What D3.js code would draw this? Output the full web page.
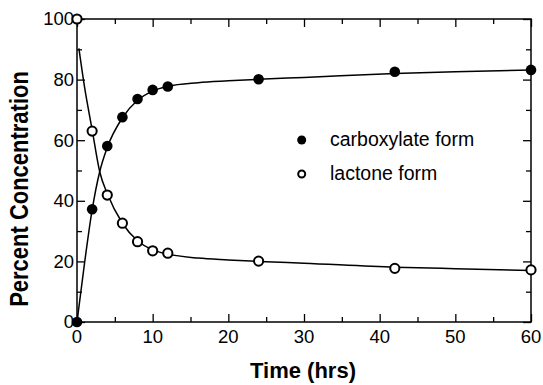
<!DOCTYPE html>
<html>
<head>
<meta charset="utf-8">
<script src="https://cdnjs.cloudflare.com/ajax/libs/d3/7.8.5/d3.min.js"></script>
<style>
  html, body { margin: 0; padding: 0; background: #fff; }
  svg { display: block; }
  text { font-family: Arial, "Liberation Sans", Helvetica, sans-serif; fill: #000; }
</style>
</head>
<body>
<svg id="chart" width="543" height="385"></svg>
<script>
// Measured data points
const timePoints = [0, 2, 4, 6, 8, 10, 12, 24, 42, 60];
const carboxylate = [0, 37.2, 58.1, 67.6, 73.6, 76.6, 77.7, 80.1, 82.6, 83.2];
const lactone = [100, 63.0, 41.9, 32.6, 26.5, 23.5, 22.7, 20.1, 17.7, 17.2];

// Fitted curves
const fitCarboxTime = [0, 1, 2, 3, 4, 6, 8, 10, 12, 16, 20, 24, 30, 42, 50, 60];
const fitCarbox = [0, 19.5, 37, 49.6, 57.6, 67.4, 73.2, 76.2, 77.8, 79.0, 79.6, 80.1, 80.7, 82.0, 82.6, 83.2];
const fitLactoneTime = [0.25, 1, 2, 3, 4, 6, 8, 10, 12, 16, 20, 24, 30, 42, 50, 60];
const fitLactone = [90.3, 77.5, 63.5, 49.6, 42.4, 32.6, 26.8, 23.8, 22.4, 21.1, 20.5, 20.0, 19.4, 18.1, 17.6, 17.0];

const xTicks = [0, 10, 20, 30, 40, 50, 60];
const xMinor = [5, 15, 25, 35, 45, 55];
const yTicks = [0, 20, 40, 60, 80, 100];
const yMinor = [10, 30, 50, 70, 90];
const seriesNames = ["carboxylate form", "lactone form"];

const svg = d3.select("#chart");
const L = 77, R = 531, T = 19, B = 322;
const x = d3.scaleLinear().domain([0, 60]).range([L, R]);
const y = d3.scaleLinear().domain([0, 100]).range([B, T]);

svg.append("rect").attr("width", 543).attr("height", 385).attr("fill", "#fff");

const major = 8, minor = 5;
// axes (ticks inward)
svg.append("g").attr("transform", `translate(0,${B})`)
  .call(d3.axisBottom(x).tickValues(xTicks).tickSize(-major).tickFormat(""))
  .call(g => g.select(".domain").remove());
svg.append("g").attr("transform", `translate(0,${B})`)
  .call(d3.axisBottom(x).tickValues(xMinor).tickSize(-minor).tickFormat(""))
  .call(g => g.select(".domain").remove());
svg.append("g").attr("transform", `translate(0,${T})`)
  .call(d3.axisTop(x).tickValues(xTicks).tickSize(-major).tickFormat(""))
  .call(g => g.select(".domain").remove());
svg.append("g").attr("transform", `translate(0,${T})`)
  .call(d3.axisTop(x).tickValues(xMinor).tickSize(-minor).tickFormat(""))
  .call(g => g.select(".domain").remove());
svg.append("g").attr("transform", `translate(${L},0)`)
  .call(d3.axisLeft(y).tickValues(yTicks).tickSize(-major).tickFormat(""))
  .call(g => g.select(".domain").remove());
svg.append("g").attr("transform", `translate(${L},0)`)
  .call(d3.axisLeft(y).tickValues(yMinor).tickSize(-minor).tickFormat(""))
  .call(g => g.select(".domain").remove());
svg.append("g").attr("transform", `translate(${R},0)`)
  .call(d3.axisRight(y).tickValues(yTicks).tickSize(-major).tickFormat(""))
  .call(g => g.select(".domain").remove());
svg.append("g").attr("transform", `translate(${R},0)`)
  .call(d3.axisRight(y).tickValues(yMinor).tickSize(-minor).tickFormat(""))
  .call(g => g.select(".domain").remove());
svg.selectAll(".tick line").attr("stroke", "#000").attr("stroke-width", 1.3);

svg.append("rect").attr("x", L).attr("y", T).attr("width", R - L).attr("height", B - T)
  .attr("fill", "none").attr("stroke", "#000").attr("stroke-width", 1.5);

// tick labels
svg.append("g").selectAll("text").data(xTicks).join("text")
  .attr("x", d => x(d)).attr("y", 343).attr("text-anchor", "middle")
  .attr("font-size", 18.5).text(d => d);
svg.append("g").selectAll("text").data(yTicks).join("text")
  .attr("x", L - 3).attr("y", d => y(d)).attr("dy", "0.35em").attr("text-anchor", "end")
  .attr("font-size", 18.5).text(d => d);

// titles
svg.append("text").attr("x", 303).attr("y", 378).attr("text-anchor", "middle")
  .attr("font-size", 22).attr("font-weight", "bold").text("Time (hrs)");
svg.append("text").attr("transform", "translate(28,189) scale(1.15,1) rotate(-90)")
  .attr("text-anchor", "middle").attr("font-size", 22).attr("font-weight", "bold")
  .text("Percent Concentration");

// fit curves
const line = d3.line().x(d => x(d[0])).y(d => y(d[1])).curve(d3.curveMonotoneX);
svg.append("path").datum(fitCarboxTime.map((t, i) => [t, fitCarbox[i]]))
  .attr("d", line).attr("fill", "none").attr("stroke", "#000").attr("stroke-width", 1.5);
svg.append("path").datum(fitLactoneTime.map((t, i) => [t, fitLactone[i]]))
  .attr("d", line).attr("fill", "none").attr("stroke", "#000").attr("stroke-width", 1.5);

// points
svg.append("g").selectAll("circle").data(timePoints).join("circle")
  .attr("cx", d => x(d)).attr("cy", (d, i) => y(lactone[i])).attr("r", 4.6)
  .attr("fill", "#fff").attr("stroke", "#000").attr("stroke-width", 2);
svg.append("g").selectAll("circle").data(timePoints).join("circle")
  .attr("cx", d => x(d)).attr("cy", (d, i) => y(carboxylate[i])).attr("r", 5.3)
  .attr("fill", "#000");

// legend
const lg = svg.append("g");
lg.append("circle").attr("cx", 301.7).attr("cy", 140).attr("r", 4.5).attr("fill", "#000");
lg.append("circle").attr("cx", 301.7).attr("cy", 174).attr("r", 3.5)
  .attr("fill", "#fff").attr("stroke", "#000").attr("stroke-width", 2);
lg.append("text").attr("x", 330).attr("y", 146).attr("font-size", 19.5).text(seriesNames[0]);
lg.append("text").attr("x", 330).attr("y", 179.5).attr("font-size", 19.5).text(seriesNames[1]);
</script>
</body>
</html>
